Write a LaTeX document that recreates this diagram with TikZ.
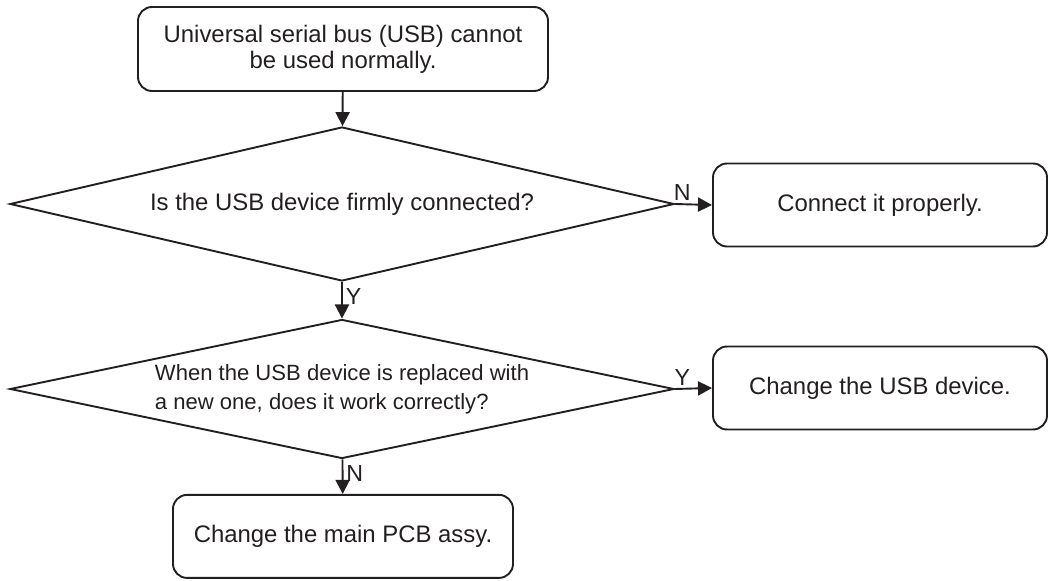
\documentclass[tikz,border=0pt]{standalone}
\usepackage{fontspec}
\setmainfont{Liberation Sans}
\usetikzlibrary{shapes.geometric, arrows.meta}
\definecolor{inkgray}{HTML}{231F20}

\begin{document}
\begin{tikzpicture}[line width=1.35pt, color=inkgray,
  stepbox/.style={draw, rounded corners=0.35cm, align=center, inner sep=0pt,
    font=\fontsize{17}{17.5}\selectfont},
  query/.style={draw, diamond, aspect=4.3, inner sep=0pt, minimum width=16.6cm},
  flow/.style={-{Triangle[length=10pt, width=10pt]}},
  yn/.style={font=\fontsize{16.5}{16.5}\selectfont, inner sep=2pt}]

  \useasboundingbox (0,0) rectangle (26.2,-14.525);

  % start of the check
  \node[stepbox, minimum width=10.25cm, minimum height=2.1cm] (start) at (8.575,-1.225)
    {\strut Universal serial bus (USB) cannot\\be used normally.};

  % first question
  \node[query, minimum height=3.85cm, font=\fontsize{17}{17}\selectfont] (firm) at (8.55,-5.1)
    {Is the USB device firmly connected?};
  \node[stepbox, minimum width=8.35cm, minimum height=2.075cm] (connect) at (22.0,-5.125)
    {Connect it properly.};

  % second question
  \node[query, minimum height=3.475cm, align=left, font=\fontsize{15.7}{20.6}\selectfont] (swap) at (8.55,-9.725)
    {When the USB device is replaced with\\a new one, does it work correctly?};
  \node[stepbox, minimum width=8.35cm, minimum height=2.075cm] (usbdev) at (22.0,-9.7)
    {Change the USB device.};

  % last resort
  \node[stepbox, minimum width=8.5cm, minimum height=2.075cm] (pcb) at (8.575,-13.41)
    {Change the main PCB assy.};

  % connectors
  \draw[flow] (start) -- (firm);
  \draw[flow] (firm.east) -- node[yn, above, pos=0.2] {N} (connect.west);
  \draw[flow] (firm) -- node[yn, right, pos=0.4] {Y} (swap);
  \draw[flow] (swap.east) -- node[yn, above, pos=0.2] {Y} (usbdev.west);
  \draw[flow] (swap) -- node[yn, right, pos=0.4] {N} (pcb);

\end{tikzpicture}
\end{document}
